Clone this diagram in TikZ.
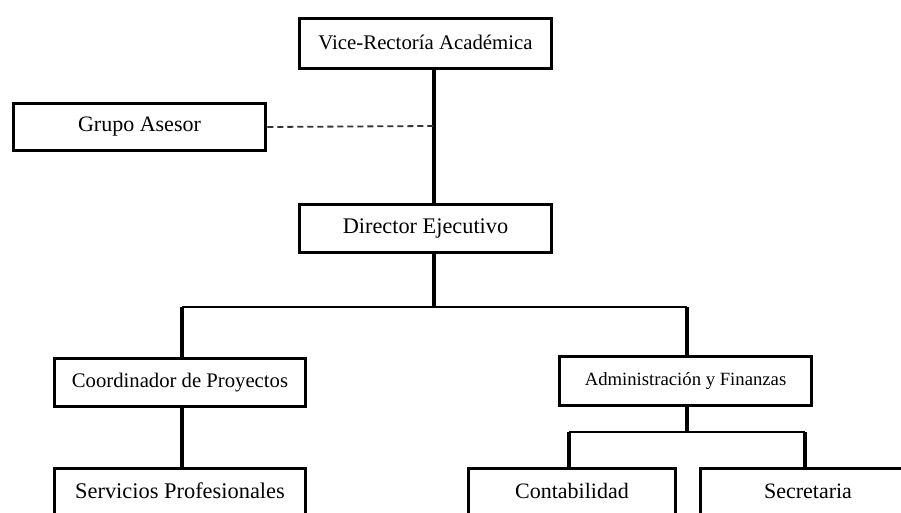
\documentclass[tikz,border=0pt]{standalone}
\usepackage{fontspec}
\setmainfont{Liberation Serif}
\begin{document}
\begin{tikzpicture}[x=1pt,y=-1pt,
  orgbox/.style={draw=black, line width=3.5pt, rectangle, inner sep=0pt, align=center, text=black},
  lowbox/.style={orgbox, anchor=north, inner ysep=8pt, text height=22pt, text depth=30pt},
  vline/.style={draw=black, line width=3.5pt},
  hline/.style={draw=black, line width=2pt},
  dline/.style={draw=black!80, line width=1.8pt, dash pattern=on 6pt off 4pt}]
\clip (0,0) rectangle (901,513);
\fill[white] (0,0) rectangle (901,513);

\node[orgbox, minimum width=252pt, minimum height=50pt, font=\fontsize{20.8}{24}\selectfont] (vice) at (425.5,43.5) {\raisebox{3pt}{Vice-Rectoría Académica}};
\node[orgbox, minimum width=252pt, minimum height=47pt, font=\fontsize{22}{25}\selectfont] (grupo) at (139.5,127) {Grupo Asesor};
\node[orgbox, minimum width=252pt, minimum height=48pt, font=\fontsize{22.3}{25}\selectfont] (dir) at (425.5,228.5) {\raisebox{2pt}{Director Ejecutivo}};
\node[orgbox, minimum width=251pt, minimum height=48pt, font=\fontsize{20.7}{23}\selectfont] (coord) at (180,382.5) {Coordinador de Proyectos};
\node[orgbox, minimum width=252pt, minimum height=49pt, font=\fontsize{18.7}{21}\selectfont] (admin) at (685.5,381) {\raisebox{2pt}{Administración y Finanzas}};
\node[lowbox, minimum width=251pt, font=\fontsize{22.4}{25}\selectfont] (serv) at (180,466.5) {Servicios Profesionales};
\node[lowbox, minimum width=207pt, font=\fontsize{22}{25}\selectfont] (cont) at (572,466.5) {Contabilidad};
\node[lowbox, minimum width=215pt, font=\fontsize{22}{25}\selectfont] (secr) at (808,466.5) {Secretaria};

\coordinate (sx) at (434,0);
\coordinate (dash) at (434,126);
\coordinate (j1) at (434,307);
\coordinate (jl) at (182,307);
\coordinate (jr) at (687,307);
\coordinate (j2) at (687,432);
\coordinate (kl) at (569,432);
\coordinate (kr) at (805,432);

\draw[vline] (vice.south -| sx) -- (dir.north -| sx);
\draw[dline] (grupo.east) -- (dash);
\draw[vline] (dir.south -| sx) -- (j1);
\draw[hline] (jl) -- (jr);
\draw[vline] (jl) -- (coord.north -| jl);
\draw[vline] (jr) -- (admin.north -| jr);
\draw[vline] (coord.south -| jl) -- (serv.north -| jl);
\draw[vline] (admin.south -| j2) -- (j2);
\draw[hline] (kl) -- (kr);
\draw[vline] (kl) -- (cont.north -| kl);
\draw[vline] (kr) -- (secr.north -| kr);
\end{tikzpicture}
\end{document}
